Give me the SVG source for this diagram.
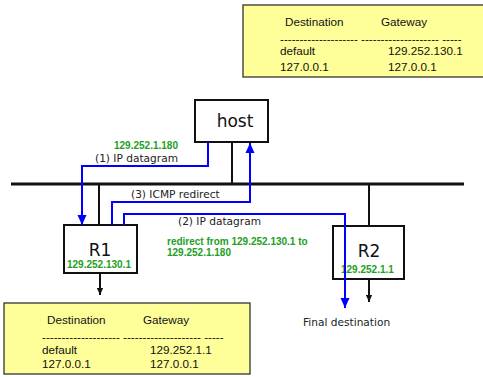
<svg xmlns="http://www.w3.org/2000/svg" width="483" height="377" viewBox="0 0 483 377">
<defs>
<style>
.tbl{fill:#FFFF99;stroke:#333;stroke-width:1.3}
.tt{font-family:"Liberation Sans",Arial,sans-serif;font-size:11.7px;fill:#111}
.box{fill:#fff;stroke:#111;stroke-width:2}
.big{font-family:"DejaVu Sans",Verdana,sans-serif;font-size:17px;fill:#111;text-anchor:middle}
.lab{font-family:"DejaVu Sans",Verdana,sans-serif;font-size:10.6px;fill:#222}
.grn{font-family:"Liberation Sans",Arial,sans-serif;font-size:10px;font-weight:bold;fill:#22A022}
.blk{fill:none;stroke:#111;stroke-width:2}
.blu{fill:none;stroke:#0000FF;stroke-width:2}
</style>
<marker id="ab" markerUnits="userSpaceOnUse" markerWidth="10" markerHeight="10" viewBox="0 0 10 10" refX="10" refY="5" orient="auto">
<path d="M0,0.5 L10,5 L0,9.5 Z" fill="#0000FF"/>
</marker>
<marker id="ak" markerUnits="userSpaceOnUse" markerWidth="7" markerHeight="7" viewBox="0 0 10 10" refX="10" refY="5" orient="auto">
<path d="M0,0.5 L10,5 L0,9.5 Z" fill="#111"/>
</marker>
</defs>
<g id="table-host">
<rect class="tbl" x="243" y="5" width="245" height="72"/>
<text class="tt" x="285" y="26">Destination</text>
<text class="tt" x="381" y="26">Gateway</text>
<text class="tt" x="280" y="42.5">-------------------- -------------------- -----</text>
<text class="tt" x="280" y="55">default</text>
<text class="tt" x="388" y="55">129.252.130.1</text>
<text class="tt" x="280" y="71">127.0.0.1</text>
<text class="tt" x="388" y="71">127.0.0.1</text>
</g>
<g id="table-r1">
<rect class="tbl" x="4" y="303" width="246" height="71"/>
<text class="tt" x="47" y="324">Destination</text>
<text class="tt" x="143" y="324">Gateway</text>
<text class="tt" x="42" y="340.5">-------------------- -------------------- -----</text>
<text class="tt" x="42" y="354">default</text>
<text class="tt" x="150" y="354">129.252.1.1</text>
<text class="tt" x="42" y="368">127.0.0.1</text>
<text class="tt" x="150" y="368">127.0.0.1</text>
</g>
<g id="host">
<rect class="box" x="195" y="100" width="73" height="42"/>
<text class="big" x="235" y="127" font-size="19">host</text>
</g>
<g id="R1">
<rect class="box" x="64" y="225" width="73" height="48"/>
<text class="big" x="100" y="256">R1</text>
<text class="grn" x="67" y="268">129.252.130.1</text>
</g>
<g id="R2">
<rect class="box" x="333" y="226" width="71" height="53"/>
<text class="big" x="369" y="257">R2</text>
<text class="grn" x="341" y="273">129.252.1.1</text>
</g>
<g id="final">
<text class="lab" x="303" y="326">Final destination</text>
</g>
<g id="connectors">
<line x1="11" y1="184" x2="464" y2="184" stroke="#111" stroke-width="3"/>
<line class="blk" x1="232" y1="142" x2="232" y2="184"/>
<line class="blk" x1="99" y1="184" x2="99" y2="225"/>
<line class="blk" x1="369" y1="184" x2="369" y2="226"/>
<line class="blk" x1="100" y1="273" x2="100" y2="295" stroke-width="1.5" marker-end="url(#ak)"/>
<line class="blk" x1="369" y1="279" x2="369" y2="302" stroke-width="1.5" marker-end="url(#ak)"/>
<path class="blu" d="M208,142 V166 H82 V225" marker-end="url(#ab)"/>
<path class="blu" d="M112,225 V202 H250 V143" marker-end="url(#ab)"/>
<path class="blu" d="M124,225 V214 H345 V308" marker-end="url(#ab)"/>
<text class="grn" x="114" y="149">129.252.1.180</text>
<text class="lab" x="95" y="162">(1) IP datagram</text>
<text class="lab" x="131" y="198">(3) ICMP redirect</text>
<text class="lab" x="178" y="225">(2) IP datagram</text>
<text class="grn" x="167" y="245">redirect from 129.252.130.1 to</text>
<text class="grn" x="167" y="256">129.252.1.180</text>
</g>
</svg>
